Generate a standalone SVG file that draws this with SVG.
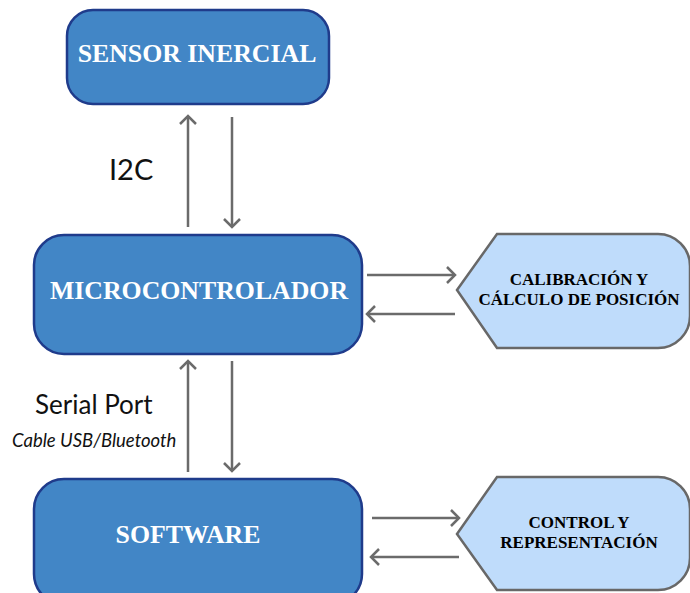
<svg xmlns="http://www.w3.org/2000/svg" width="690" height="593" viewBox="0 0 690 593">
<defs>
<style>
.main{fill:#4286c6;stroke:#1f3b8b;stroke-width:2.5}
.proc{fill:#bfdcfb;stroke:#686868;stroke-width:2.5}
.mt{font-family:"Liberation Serif","Times New Roman",serif;font-weight:bold;font-size:25.8px;fill:#ffffff;text-anchor:middle}
.pt{font-family:"Liberation Serif","Times New Roman",serif;font-weight:bold;font-size:17px;fill:#000000;text-anchor:middle}
.lbl{font-family:Lato,"Open Sans",sans-serif;fill:#111111}
.conn line{stroke:#6b6b6b;stroke-width:2.5;fill:none}
</style>
<marker id="ah" viewBox="-12 -12 24 24" markerWidth="24" markerHeight="24" refX="0" refY="0" orient="auto" markerUnits="userSpaceOnUse">
<path d="M-8,-8 L0,0 L-8,8" fill="none" stroke="#6b6b6b" stroke-width="2.5"/>
</marker>
</defs>
<rect width="690" height="593" fill="#ffffff"/>

<g id="sensor">
<rect class="main" x="67" y="10" width="262" height="94" rx="26"/>
<text class="mt" x="197" y="62">SENSOR INERCIAL</text>
</g>

<g id="micro">
<rect class="main" x="34" y="235" width="328" height="119" rx="30"/>
<text class="mt" x="199" y="299">MICROCONTROLADOR</text>
</g>

<g id="software">
<rect class="main" x="34" y="479" width="328" height="125" rx="30"/>
<text class="mt" x="188" y="543">SOFTWARE</text>
</g>

<g id="calibracion">
<path class="proc" d="M457,290 L497,234 L658,234 A32,32 0 0 1 690,266 L690,316 A32,32 0 0 1 658,348 L497,348 Z"/>
<text class="pt" x="579" y="285">CALIBRACIÓN Y</text>
<text class="pt" x="579" y="305">CÁLCULO DE POSICIÓN</text>
</g>

<g id="control">
<path class="proc" d="M457,534 L497,477 L658,477 A32,32 0 0 1 690,509 L690,558 A32,32 0 0 1 658,590 L497,590 Z"/>
<text class="pt" x="579" y="528">CONTROL Y</text>
<text class="pt" x="579" y="548">REPRESENTACIÓN</text>
</g>

<g id="connectors" class="conn">
<line x1="188" y1="227" x2="188" y2="116" marker-end="url(#ah)"/>
<line x1="232" y1="117" x2="232" y2="227" marker-end="url(#ah)"/>
<line x1="188" y1="472" x2="188" y2="361" marker-end="url(#ah)"/>
<line x1="232" y1="361" x2="232" y2="471" marker-end="url(#ah)"/>
<line x1="367" y1="275" x2="455" y2="275" marker-end="url(#ah)"/>
<line x1="455" y1="314" x2="367" y2="314" marker-end="url(#ah)"/>
<line x1="372" y1="518" x2="459" y2="518" marker-end="url(#ah)"/>
<line x1="459" y1="557" x2="371" y2="557" marker-end="url(#ah)"/>
</g>

<g id="labels">
<text class="lbl" x="109" y="180" font-size="29">I2C</text>
<text class="lbl" x="35" y="414" font-size="26">Serial Port</text>
<text class="lbl" x="12" y="447" font-size="18.5" font-style="italic">Cable USB/Bluetooth</text>
</g>
</svg>
